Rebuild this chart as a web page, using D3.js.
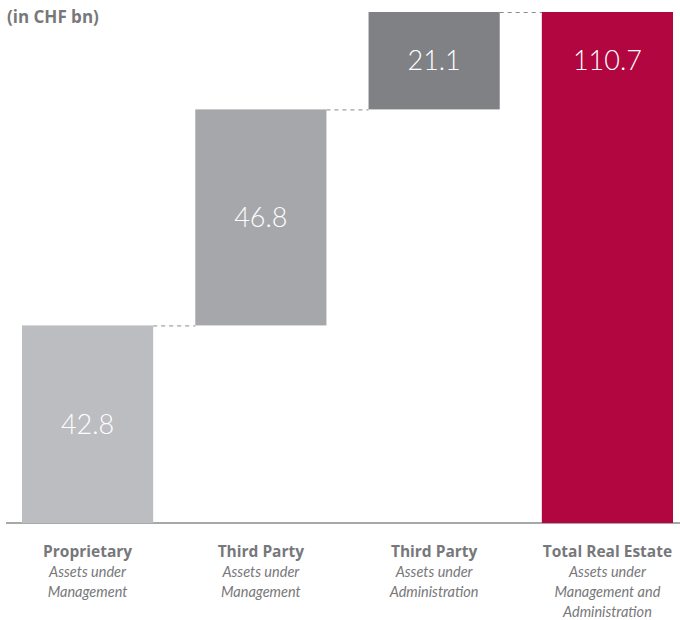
<!DOCTYPE html>
<html>
<head>
<meta charset="utf-8">
<script src="https://cdn.jsdelivr.net/npm/d3@7"></script>
<style>
  body { margin: 0; background: #fff; }
  svg text { font-family: Lato, "Open Sans", sans-serif; }
  svg text.heading { font-family: "Open Sans", Lato, sans-serif; }
</style>
</head>
<body>
<div id="chart"></div>
<script>
// Data
const categories = ["Proprietary", "Third Party", "Third Party", "Total Real Estate"];
const subLabels  = [
  ["Assets under", "Management"],
  ["Assets under", "Management"],
  ["Assets under", "Administration"],
  ["Assets under", "Management and", "Administration"]
];
const values  = [42.8, 46.8, 21.1, 110.7];
const isTotal = [false, false, false, true];
const colors  = ["#bcbdc1", "#a6a7ab", "#808185", "#b1063f"];

let w = 680, h = 620;
let margin = { top: 12, right: 7, bottom: 97, left: 22 };

const svg = d3.select("#chart").append("svg")
  .attr("width", w)
  .attr("height", h);

// Build waterfall steps
let running = 0;
const steps = values.map((v, i) => {
  let start = isTotal[i] ? 0 : running;
  let end = isTotal[i] ? v : running + v;
  if (!isTotal[i]) running = end;
  return { name: categories[i], sub: subLabels[i], value: v, start, end, i };
});

const x = d3.scaleBand()
  .domain(d3.range(values.length))
  .range([margin.left, w - margin.right])
  .paddingInner(0.243)
  .paddingOuter(0);

const y = d3.scaleLinear()
  .domain([0, d3.max(steps, d => d.end)])
  .range([h - margin.bottom, margin.top]);

// Baseline
svg.append("line")
  .attr("x1", 6).attr("x2", w)
  .attr("y1", y(0)).attr("y2", y(0))
  .attr("stroke", "#8a8b8e")
  .attr("stroke-width", 1.5);

// Dashed connectors
svg.selectAll(".connector")
  .data(steps.slice(0, -1))
  .enter()
  .append("line")
  .attr("class", "connector")
  .attr("x1", d => x(d.i) + x.bandwidth())
  .attr("x2", d => x(d.i + 1))
  .attr("y1", d => y(d.end) + 0.5)
  .attr("y2", d => y(d.end) + 0.5)
  .attr("stroke", "#8a8b8e")
  .attr("stroke-width", 1)
  .attr("stroke-dasharray", "4,4");

// Bars
svg.selectAll(".bar")
  .data(steps)
  .enter()
  .append("rect")
  .attr("class", "bar")
  .attr("x", d => x(d.i))
  .attr("y", d => y(d.end))
  .attr("width", x.bandwidth())
  .attr("height", d => y(d.start) - y(d.end))
  .attr("fill", d => colors[d.i]);

// Value labels (total sits level with the last step)
const labelY = d => {
  if (d.i === steps.length - 1) {
    let prev = steps[d.i - 1];
    return (y(prev.start) + y(prev.end)) / 2;
  }
  return (y(d.start) + y(d.end)) / 2;
};

svg.selectAll(".value")
  .data(steps)
  .enter()
  .append("text")
  .attr("class", "value")
  .attr("x", d => x(d.i) + x.bandwidth() / 2)
  .attr("y", labelY)
  .attr("dy", "0.35em")
  .attr("text-anchor", "middle")
  .attr("fill", "#fff")
  .style("font-size", "27px")
  .style("font-weight", 300)
  .text(d => d.value.toFixed(1));

// Category labels
const catG = svg.selectAll(".cat")
  .data(steps)
  .enter()
  .append("text")
  .attr("class", "cat")
  .attr("text-anchor", "middle")
  .attr("fill", "#77787b");

catG.append("tspan")
  .attr("x", d => x(d.i) + x.bandwidth() / 2)
  .attr("y", 557)
  .style("font-family", "'Open Sans', Lato, sans-serif")
  .style("font-size", "15.5px")
  .style("font-weight", 700)
  .text(d => d.name);

catG.each(function(d) {
  d3.select(this).selectAll(".subline")
    .data(d.sub)
    .enter()
    .append("tspan")
    .attr("class", "subline")
    .attr("x", x(d.i) + x.bandwidth() / 2)
    .attr("y", (s, j) => 577 + j * 20)
    .style("font-size", "14.5px")
    .style("font-style", "italic")
    .text(s => s);
});

// Unit title
svg.append("text")
  .attr("class", "heading")
  .attr("x", 7)
  .attr("y", 23)
  .attr("fill", "#77787b")
  .style("font-size", "17px")
  .style("font-weight", 700)
  .text("(in CHF bn)");
</script>
</body>
</html>
